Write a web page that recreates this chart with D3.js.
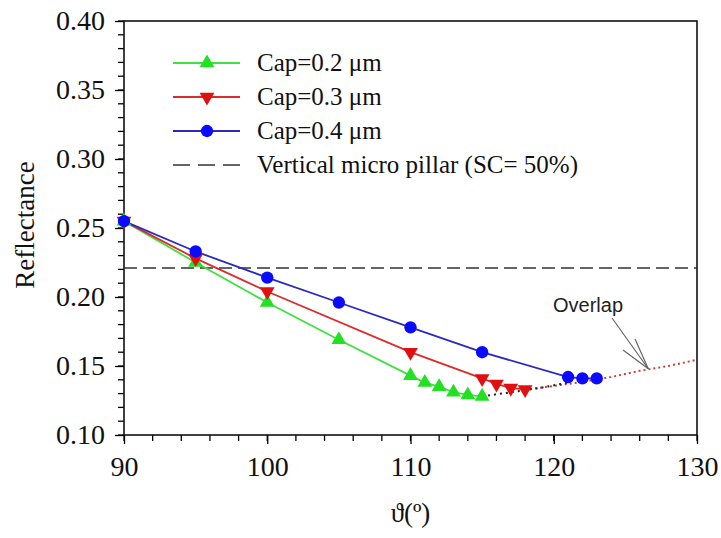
<!DOCTYPE html>
<html>
<head>
<meta charset="utf-8">
<script src="https://cdn.jsdelivr.net/npm/d3@7"></script>
<style>
  body { margin: 0; background: #fff; }
  svg { display: block; }
</style>
</head>
<body>
<div id="chart-area"></div>
<script>
// Reflectance vs angle for three cap heights

var width = 721;
var height = 538;
var margin = { top: 21, right: 24, bottom: 103, left: 124 };

// data
var cap02X = [90, 95, 100, 105, 110, 111, 112, 113, 114, 115];
var cap02Y = [0.255, 0.225, 0.196, 0.169, 0.143, 0.138, 0.135, 0.131, 0.129, 0.128];
var cap03X = [90, 95, 100, 110, 115, 116, 117, 118];
var cap03Y = [0.255, 0.228, 0.204, 0.160, 0.141, 0.137, 0.134, 0.133];
var cap04X = [90, 95, 100, 105, 110, 115, 121, 122, 123];
var cap04Y = [0.255, 0.233, 0.214, 0.196, 0.178, 0.160, 0.142, 0.141, 0.141];

// dotted continuations
var cap02ExtX = [115, 117, 119, 121];
var cap02ExtY = [0.128, 0.131, 0.134, 0.138];
var cap03ExtX = [118, 120, 122, 124, 126, 128, 130];
var cap03ExtY = [0.133, 0.1355, 0.1385, 0.142, 0.1465, 0.150, 0.1545];

var pillarY = 0.221;

var xTicks = [90, 100, 110, 120, 130];
var yTicks = [0.10, 0.15, 0.20, 0.25, 0.30, 0.35, 0.40];

var legendLabels = ["Cap=0.2 \u03bcm", "Cap=0.3 \u03bcm", "Cap=0.4 \u03bcm", "Vertical micro pillar (SC= 50%)"];

function zip(xs, ys) {
    return xs.map(function(x, i) { return { x: x, y: ys[i] }; });
}

var series = [
    { pts: zip(cap02X, cap02Y), line: "#3fe03f", fill: "#22e022", shape: "up" },
    { pts: zip(cap03X, cap03Y), line: "#dd2a2a", fill: "#e01010", shape: "down" },
    { pts: zip(cap04X, cap04Y), line: "#2a2ac0", fill: "#0a0aff", shape: "circle" }
];

var svg = d3.select("#chart-area")
    .append("svg")
    .attr("width", width)
    .attr("height", height);

var x = d3.scaleLinear().domain([90, 130]).range([margin.left, width - margin.right]);
var y = d3.scaleLinear().domain([0.10, 0.40]).range([height - margin.bottom, margin.top]);

var serif = "'Liberation Serif', 'Times New Roman', serif";

// minor ticks
var xMinor = d3.range(90, 130.01, 2);
var yMinor = d3.range(0.10, 0.4001, 0.01);

var xAxis = svg.append("g")
    .attr("transform", "translate(0," + (height - margin.bottom) + ")");
xAxis.selectAll("line.minor")
    .data(xMinor)
    .enter()
    .append("line")
    .attr("x1", function(d) { return x(d); })
    .attr("x2", function(d) { return x(d); })
    .attr("y1", 0)
    .attr("y2", 6)
    .attr("stroke", "#000")
    .attr("stroke-width", 1.3);
xAxis.call(d3.axisBottom(x).tickValues(xTicks).tickSize(9).tickPadding(12).tickFormat(d3.format("d")));

var yAxis = svg.append("g")
    .attr("transform", "translate(" + margin.left + ",0)");
yAxis.selectAll("line.minor")
    .data(yMinor)
    .enter()
    .append("line")
    .attr("x1", 0)
    .attr("x2", -6)
    .attr("y1", function(d) { return y(d); })
    .attr("y2", function(d) { return y(d); })
    .attr("stroke", "#000")
    .attr("stroke-width", 1.3);
yAxis.call(d3.axisLeft(y).tickValues(yTicks).tickSize(9).tickPadding(10).tickFormat(d3.format(".2f")));

svg.selectAll(".tick line").attr("stroke-width", 1.3);
svg.selectAll(".domain").remove();
svg.selectAll(".tick text")
    .attr("font-family", serif)
    .attr("font-size", 28)
    .attr("fill", "#111");

// frame
svg.append("rect")
    .attr("x", margin.left)
    .attr("y", margin.top)
    .attr("width", width - margin.left - margin.right)
    .attr("height", height - margin.top - margin.bottom)
    .attr("fill", "none")
    .attr("stroke", "#111")
    .attr("stroke-width", 1.6);

// reference line
svg.append("line")
    .attr("x1", x(90))
    .attr("x2", x(130))
    .attr("y1", y(pillarY))
    .attr("y2", y(pillarY))
    .attr("stroke", "#333")
    .attr("stroke-width", 1.6)
    .attr("stroke-dasharray", "13,6");

var line = d3.line()
    .x(function(d) { return x(d.x); })
    .y(function(d) { return y(d.y); });

// dotted extensions
svg.append("path")
    .datum(zip(cap03ExtX, cap03ExtY))
    .attr("d", line)
    .attr("fill", "none")
    .attr("stroke", "#c84040")
    .attr("stroke-width", 2)
    .attr("stroke-dasharray", "2,3");
svg.append("path")
    .datum(zip(cap02ExtX, cap02ExtY))
    .attr("d", line)
    .attr("fill", "none")
    .attr("stroke", "#222")
    .attr("stroke-width", 2)
    .attr("stroke-dasharray", "2,4");

function symbolPath(shape) {
    if (shape === "circle") return d3.symbol().type(d3.symbolCircle).size(120)();
    return d3.symbol().type(d3.symbolTriangle).size(95)();
}

function symbolTransform(shape, px, py) {
    var t = "translate(" + px + "," + py + ")";
    if (shape === "down") t += " rotate(180)";
    return t;
}

series.forEach(function(s) {
    svg.append("path")
        .datum(s.pts)
        .attr("d", line)
        .attr("fill", "none")
        .attr("stroke", s.line)
        .attr("stroke-width", 1.8);
});

series.forEach(function(s) {
    svg.selectAll(null)
        .data(s.pts)
        .enter()
        .append("path")
        .attr("d", symbolPath(s.shape))
        .attr("transform", function(d) { return symbolTransform(s.shape, x(d.x), y(d.y)); })
        .attr("fill", s.fill);
});

// legend
var legend = svg.append("g").attr("transform", "translate(173,63)");
legendLabels.forEach(function(label, i) {
    var row = legend.append("g").attr("transform", "translate(0," + (i * 34) + ")");
    if (i < 3) {
        var s = series[i];
        row.append("line")
            .attr("x1", 0).attr("x2", 67)
            .attr("stroke", s.line)
            .attr("stroke-width", 1.8);
        row.append("path")
            .attr("d", symbolPath(s.shape))
            .attr("transform", symbolTransform(s.shape, 34, 0))
            .attr("fill", s.fill);
    } else {
        row.append("line")
            .attr("x1", 0).attr("x2", 67)
            .attr("stroke", "#333")
            .attr("stroke-width", 1.6)
            .attr("stroke-dasharray", "17,8");
    }
    row.append("text")
        .attr("x", 84)
        .attr("y", 8)
        .attr("font-family", serif)
        .attr("font-size", 25)
        .attr("fill", "#111")
        .text(label);
});

// overlap note
var tipX = x(126.6), tipY = y(0.148);
svg.append("text")
    .attr("x", 553)
    .attr("y", 312)
    .attr("font-family", "'Liberation Sans', Arial, sans-serif")
    .attr("font-size", 20)
    .attr("fill", "#222")
    .text("Overlap");
[[612, 318], [623, 350], [635, 339]].forEach(function(p) {
    svg.append("line")
        .attr("x1", p[0]).attr("y1", p[1])
        .attr("x2", tipX).attr("y2", tipY)
        .attr("stroke", "#666")
        .attr("stroke-width", 1.2);
});

// axis titles
svg.append("text")
    .attr("x", (margin.left + width - margin.right) / 2)
    .attr("y", 522)
    .attr("text-anchor", "middle")
    .attr("font-family", serif)
    .attr("font-size", 27)
    .attr("fill", "#111")
    .text("\u03d1(\u00ba)");

svg.append("text")
    .attr("transform", "translate(34,225) rotate(-90)")
    .attr("text-anchor", "middle")
    .attr("font-family", serif)
    .attr("font-size", 27)
    .attr("fill", "#111")
    .text("Reflectance");
</script>
</body>
</html>
